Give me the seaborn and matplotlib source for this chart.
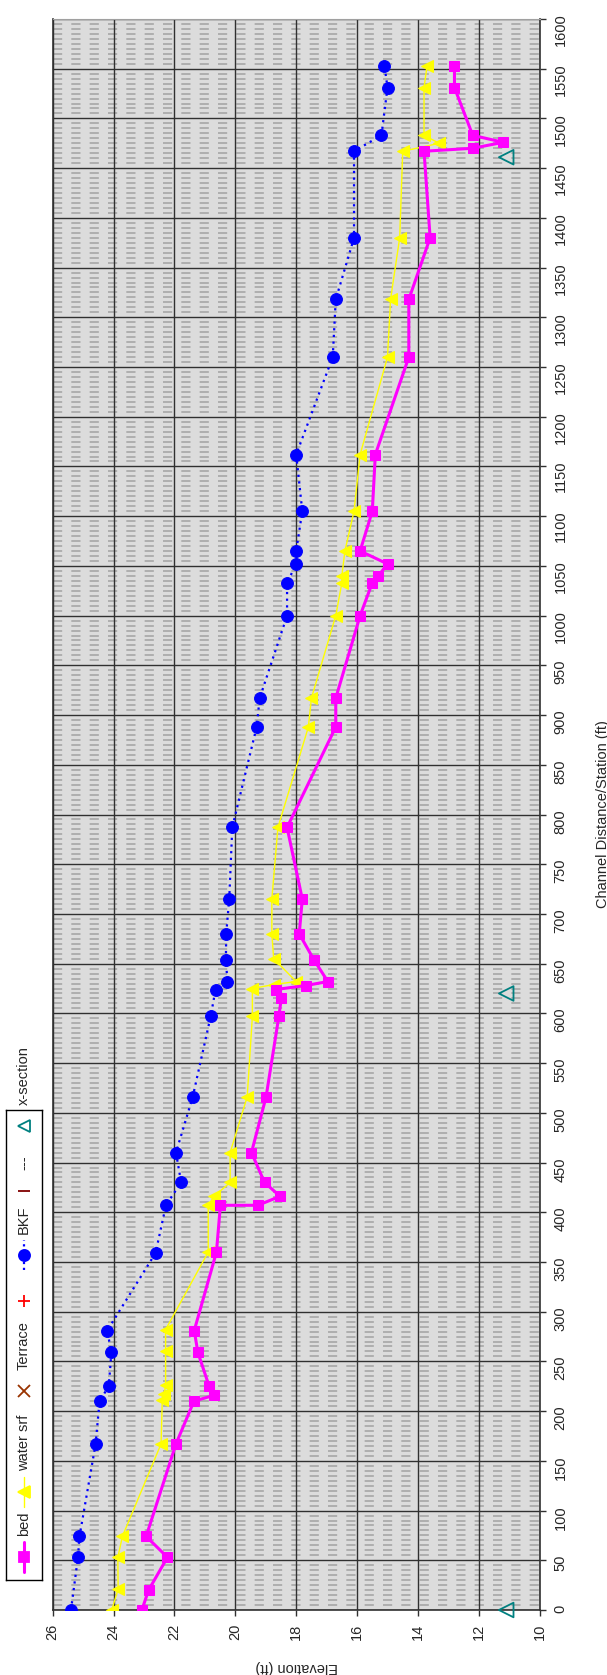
import numpy as np
import pandas as pd
import seaborn as sns
import matplotlib
matplotlib.use("Agg")
from matplotlib import pyplot as plt

# channel profile, station (ft) vs elevation (ft)
bed_sta = [0, 20, 53, 74, 167, 210, 216, 225, 259, 281, 360, 407, 407, 416, 430, 460, 516,
           597, 615, 624, 628, 632, 654, 680, 715, 787, 888, 917, 1000, 1033, 1040, 1052,
           1065, 1105, 1162, 1260, 1318, 1380, 1467, 1470, 1476, 1483, 1531, 1553]
bed_elev = [23.07, 22.85, 22.23, 22.93, 21.95, 21.36, 20.69, 20.86, 21.23, 21.35, 20.62, 20.49,
            19.26, 18.53, 19.04, 19.47, 18.99, 18.57, 18.49, 18.67, 17.69, 16.96, 17.42, 17.9,
            17.8, 18.3, 16.7, 16.7, 15.9, 15.5, 15.3, 15.0, 15.9, 15.5, 15.4, 14.3, 14.3, 13.6,
            13.8, 12.2, 11.2, 12.2, 12.8, 12.8]

ws_sta = [0, 21, 53, 74, 167, 211, 217, 226, 260, 282, 360, 407, 416, 430, 460, 516, 597,
          625, 629, 632, 655, 680, 715, 787, 888, 917, 1000, 1033, 1040, 1065, 1105, 1162,
          1260, 1318, 1380, 1467, 1475, 1483, 1531, 1553]
ws_elev = [24.06, 23.85, 23.86, 23.71, 22.44, 22.40, 22.34, 22.29, 22.29, 22.29, 20.89, 20.89,
           20.70, 20.17, 20.17, 19.61, 19.44, 19.44, 18.74, 18.00, 18.74, 18.8, 18.8, 18.6,
           17.6, 17.5, 16.7, 16.5, 16.5, 16.4, 16.1, 15.9, 15.0, 14.9, 14.6, 14.5, 13.3, 13.8,
           13.8, 13.7]

bkf_sta = [0, 53, 74, 167, 210, 225, 259, 281, 359, 407, 430, 460, 516, 597, 624, 632, 654,
           680, 715, 787, 888, 917, 1000, 1033, 1052, 1065, 1105, 1162, 1260, 1318, 1380,
           1467, 1483, 1531, 1553]
bkf_elev = [25.40, 25.17, 25.12, 24.59, 24.46, 24.16, 24.07, 24.21, 22.62, 22.28, 21.78, 21.95,
            21.40, 20.81, 20.65, 20.26, 20.31, 20.3, 20.2, 20.1, 19.3, 19.2, 18.3, 18.3, 18.0,
            18.0, 17.8, 18.0, 16.8, 16.7, 16.1, 16.1, 15.2, 15.0, 15.1]

xs_sta = [0, 620, 1461]
xs_elev = [11.1, 11.1, 11.1]

elev_ticks = list(range(26, 9, -2))
sta_ticks = list(range(0, 1601, 50))

sns.set_style("white")
plt.rcParams['font.family'] = ['Liberation Sans', 'DejaVu Sans']

fig = plt.figure(figsize=(6.07, 16.75), dpi=100)
ax = fig.add_axes([52.7 / 607, 1 - 1610 / 1675, 487 / 607, 1591 / 1675])
ax.set_facecolor('#dcdcdc')

# grid (drawn below data)
for s in range(0, 1601, 5):
    if s % 50:
        ax.axhline(s, color='#a6a6a6', lw=1.2, ls=(0, (5.5, 5.5)), zorder=0.5)
for s in sta_ticks:
    ax.axhline(s, color='#303030', lw=1.0, zorder=0.6)
for e in elev_ticks:
    ax.axvline(e, color='#303030', lw=1.0, zorder=0.6)

bed = pd.DataFrame({'sta': bed_sta, 'elev': bed_elev})
ws = pd.DataFrame({'sta': ws_sta, 'elev': ws_elev})
bkf = pd.DataFrame({'sta': bkf_sta, 'elev': bkf_elev})
xs = pd.DataFrame({'sta': xs_sta, 'elev': xs_elev})

sns.lineplot(data=bkf, x='elev', y='sta', sort=False, estimator=None, color='#0000ff',
             lw=1.6, ls=(0, (1, 2)), marker='o', markersize=8.5, markeredgecolor='#0000ff',
             ax=ax, zorder=3)
sns.lineplot(data=ws, x='elev', y='sta', sort=False, estimator=None, color='#ffff00',
             lw=1.0, marker='<', markersize=8, markeredgecolor='#ffff00', ax=ax, zorder=4)
sns.lineplot(data=bed, x='elev', y='sta', sort=False, estimator=None, color='#ff00ff',
             lw=2.2, marker='s', markersize=7, markeredgecolor='#ff00ff', ax=ax, zorder=5)
sns.scatterplot(data=xs, x='elev', y='sta', marker='<', s=110, color='#008080', ax=ax, zorder=6)
pts = ax.collections[-1]
pts.set_facecolor('none')
pts.set_edgecolor('#008080')
pts.set_linewidth(1.3)
pts.set_clip_on(False)

ax.set_xlim(26, 10)
ax.set_ylim(0, 1600)
ax.set_xticks(elev_ticks)
ax.set_yticks(sta_ticks)
ax.yaxis.tick_right()
ax.yaxis.set_label_position('right')
ax.tick_params(axis='both', which='major', direction='out', length=4, width=1,
               color='#303030', labelsize=10.5, pad=6, labelrotation=90)
ax.tick_params(left=False, right=True, bottom=True)
for side in ['left', 'right', 'bottom']:
    ax.spines[side].set_color('#303030')
    ax.spines[side].set_linewidth(1.2)
ax.spines['top'].set_color('#a0a0a0')

ax.set_xlabel('Elevation (ft)', fontsize=10.5, rotation=180)
ax.xaxis.set_label_coords(0.5, -(1660 - 1610) / 1591)
ax.set_ylabel('Channel Distance/Station (ft)', fontsize=10.5, rotation=90)
ax.yaxis.set_label_coords((596 - 52.7) / 487, 0.5)

# legend, turned with the chart (entries run bottom to top)
lax = fig.add_axes([6 / 607, 1 - 1580 / 1675, 36 / 607, 470 / 1675])
lax.set_xlim(0, 1)
lax.set_ylim(0, 470)
lax.set_xticks([])
lax.set_yticks([])
for sp in lax.spines.values():
    sp.set_color('black')
    sp.set_linewidth(1)
entries = [('bed', '#ff00ff', 's', '-', 2.2, 7),
           ('water srf', '#ffff00', '<', '-', 1.0, 8),
           ('Terrace', '#993300', 'x', 'none', 1.0, 8),
           ('', '#ff0000', '+', 'none', 1.0, 9),
           ('BKF', '#0000ff', 'o', ':', 1.6, 8),
           ('---', '#800000', '_', 'none', 1.0, 9),
           ('x-section', '#008080', '<', 'none', 1.0, 9)]
y0 = 8
for name, col, mk, ls, lw, ms in entries:
    if ls != 'none':
        lax.plot([0.5, 0.5], [y0, y0 + 30], color=col, lw=lw, ls=ls)
    face = 'none' if name == 'x-section' else col
    lax.plot([0.5], [y0 + 15], marker=mk, color=col, ms=ms, mfc=face, mec=col, mew=1.3)
    lax.text(0.5, y0 + 36, name, rotation=90, ha='center', va='bottom', fontsize=10.5)
    y0 += 36 + 6.2 * len(name) + 10

fig.savefig('out.png', dpi=100)
